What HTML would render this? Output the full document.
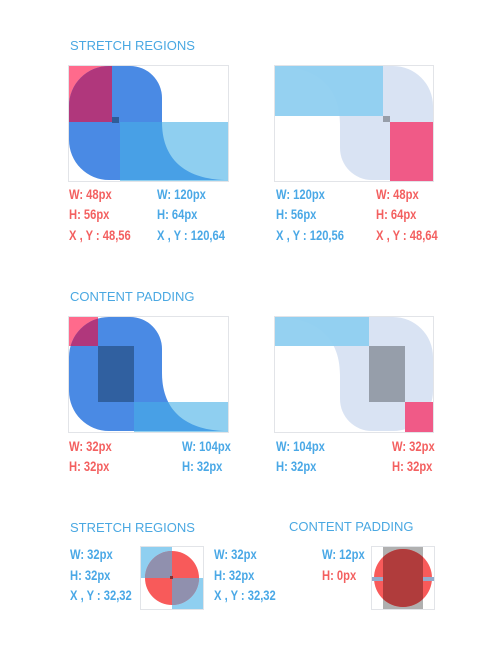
<!DOCTYPE html>
<html><head><meta charset="utf-8"><style>
html,body{margin:0;padding:0;background:#fff;width:502px;height:648px;overflow:hidden}
svg{display:block}
.t{font-family:"Liberation Sans",sans-serif;font-size:13px;fill:#4aa8e2}
.l{font-family:"Liberation Sans",sans-serif;font-size:14px;font-weight:bold}
.r{fill:#f36060}.b{fill:#4aa8e6}
</style></head><body>
<svg width="502" height="648" viewBox="0 0 502 648">
<defs>
<path id="blob" d="M1,41 A40,40 0 0 1 41,1 L62,1 A32,32 0 0 1 94,33 L94,57 C94,98 122,115 160,115 L41,115 A40,40 0 0 1 1,75 Z"/>
</defs>
<text class="t" x="70" y="50">STRETCH REGIONS</text>

<g>
<rect x="68.5" y="65.5" width="160" height="116" fill="#fff" stroke="#e2e4e8"/>
<rect x="69" y="66" width="43" height="56" fill="#ff6a8c"/>
<use href="#blob" x="68" y="65" fill="#4a8ae4"/>
<clipPath id="c1"><use href="#blob" x="68" y="65"/></clipPath>
<rect x="69" y="66" width="43" height="56" fill="#b0377c" clip-path="url(#c1)"/>
<rect x="120" y="122" width="108" height="59" fill="#8fcff0"/>
<rect x="120" y="122" width="108" height="59" fill="#48a0e6" clip-path="url(#c1)"/>
<rect x="112" y="117" width="7" height="6" fill="#2e5c98"/>
</g>
<g class="l">
<text class="r" transform="translate(69 199) scale(0.8 1)">W: 48px</text>
<text class="r" transform="translate(69 219) scale(0.8 1)">H: 56px</text>
<text class="r" transform="translate(69 240) scale(0.8 1)">X , Y : 48,56</text>
<text class="b" transform="translate(157 199) scale(0.8 1)">W: 120px</text>
<text class="b" transform="translate(157 219) scale(0.8 1)">H: 64px</text>
<text class="b" transform="translate(157 240) scale(0.8 1)">X , Y : 120,64</text>
</g>

<g>
<rect x="274.5" y="65.5" width="159" height="116" fill="#fff" stroke="#e2e4e8"/>
<use href="#blob" transform="translate(434,181) rotate(180)" fill="#d9e3f3"/>
<rect x="275" y="66" width="108" height="50" fill="#8fcff0" opacity="0.95"/>
<rect x="390" y="122" width="43" height="59" fill="#f05a87"/>
<rect x="383" y="116" width="7" height="6" fill="#979ea9"/>
</g>
<g class="l">
<text class="b" transform="translate(276 199) scale(0.8 1)">W: 120px</text>
<text class="b" transform="translate(276 219) scale(0.8 1)">H: 56px</text>
<text class="b" transform="translate(276 240) scale(0.8 1)">X , Y : 120,56</text>
<text class="r" transform="translate(376 199) scale(0.8 1)">W: 48px</text>
<text class="r" transform="translate(376 219) scale(0.8 1)">H: 64px</text>
<text class="r" transform="translate(376 240) scale(0.8 1)">X , Y : 48,64</text>
</g>

<text class="t" x="70" y="301">CONTENT PADDING</text>
<g>
<rect x="68.5" y="316.5" width="160" height="116" fill="#fff" stroke="#e2e4e8"/>
<rect x="69" y="317" width="29" height="29" fill="#ff6a8c"/>
<use href="#blob" x="68" y="316" fill="#4a8ae4"/>
<clipPath id="c3"><use href="#blob" x="68" y="316"/></clipPath>
<rect x="69" y="317" width="29" height="29" fill="#b0377c" clip-path="url(#c3)"/>
<rect x="134" y="402" width="94" height="30" fill="#8fcff0"/>
<rect x="134" y="402" width="94" height="30" fill="#48a0e6" clip-path="url(#c3)"/>
<rect x="98" y="346" width="36" height="56" fill="#3060a0"/>
</g>
<g class="l">
<text class="r" transform="translate(69 451) scale(0.8 1)">W: 32px</text>
<text class="r" transform="translate(69 471) scale(0.8 1)">H: 32px</text>
<text class="b" transform="translate(182 451) scale(0.8 1)">W: 104px</text>
<text class="b" transform="translate(182 471) scale(0.8 1)">H: 32px</text>
</g>
<g>
<rect x="274.5" y="316.5" width="159" height="116" fill="#fff" stroke="#e2e4e8"/>
<use href="#blob" transform="translate(434,432) rotate(180)" fill="#d9e3f3"/>
<rect x="275" y="317" width="94" height="29" fill="#8fcff0" opacity="0.95"/>
<rect x="369" y="346" width="36" height="56" fill="#969eaa"/>
<rect x="405" y="402" width="28" height="30" fill="#f05a87"/>
</g>
<g class="l">
<text class="b" transform="translate(276 451) scale(0.8 1)">W: 104px</text>
<text class="b" transform="translate(276 471) scale(0.8 1)">H: 32px</text>
<text class="r" transform="translate(392 451) scale(0.8 1)">W: 32px</text>
<text class="r" transform="translate(392 471) scale(0.8 1)">H: 32px</text>
</g>

<text class="t" x="70" y="532">STRETCH REGIONS</text>
<text class="t" x="289" y="531">CONTENT PADDING</text>
<g class="l">
<text class="b" transform="translate(70 559) scale(0.8 1)">W: 32px</text>
<text class="b" transform="translate(70 580) scale(0.8 1)">H: 32px</text>
<text class="b" transform="translate(70 600) scale(0.8 1)">X , Y : 32,32</text>
<text class="b" transform="translate(214 559) scale(0.8 1)">W: 32px</text>
<text class="b" transform="translate(214 580) scale(0.8 1)">H: 32px</text>
<text class="b" transform="translate(214 600) scale(0.8 1)">X , Y : 32,32</text>
<text class="b" transform="translate(322 559) scale(0.8 1)">W: 12px</text>
<text class="r" transform="translate(322 580) scale(0.8 1)">H: 0px</text>
</g>
<g>
<rect x="140.5" y="546.5" width="63" height="63" fill="#fff" stroke="#e2e4e8"/>
<rect x="141" y="547" width="31" height="31" fill="#8fcff0"/>
<rect x="172" y="578" width="31" height="31" fill="#8fcff0"/>
<circle cx="172" cy="578" r="27" fill="#f85a5a"/>
<clipPath id="c5"><circle cx="172" cy="578" r="27"/></clipPath>
<g clip-path="url(#c5)"><rect x="141" y="547" width="31" height="31" fill="#9090ae"/><rect x="172" y="578" width="31" height="31" fill="#9090ae"/></g>
<rect x="170" y="576" width="3" height="3" fill="#8a3030"/>
</g>
<g>
<rect x="371.5" y="546.5" width="63" height="63" fill="#fff" stroke="#e2e4e8"/>
<rect x="383" y="547" width="40" height="62" fill="#b0b0b0"/>
<circle cx="403" cy="578" r="29" fill="#f85a5a"/>
<clipPath id="c6"><circle cx="403" cy="578" r="29"/></clipPath>
<rect x="383" y="547" width="40" height="62" fill="#b03c3c" clip-path="url(#c6)"/>
<rect x="372" y="577" width="11" height="4" fill="#94aacb"/>
<rect x="423" y="577" width="11" height="4" fill="#94aacb"/>
</g>
</svg>
</body></html>
